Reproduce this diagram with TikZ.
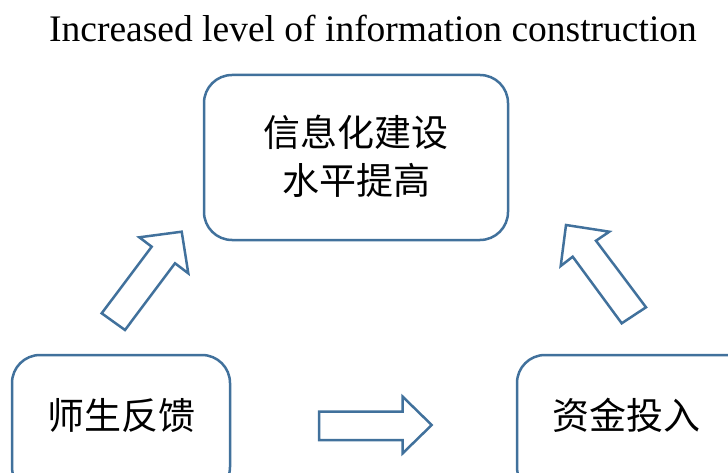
\documentclass[tikz,border=0pt]{standalone}
\usepackage{fontspec}
\setmainfont{Liberation Serif}
\newfontfamily\cjk{Noto Sans CJK SC}
\definecolor{frameblue}{RGB}{65,113,156}
\begin{document}
\begin{tikzpicture}[x=1pt,y=-1pt,
  box/.style={draw=frameblue, line width=2.5pt, rounded corners=28pt, fill=white, inner sep=0pt},
  cjktext/.style={font=\cjk\fontsize{37}{48}\selectfont, align=center, inner sep=0pt},
  blockarrow/.style={draw=frameblue, line width=2.5pt, line join=miter, fill=white}]
\useasboundingbox (0,0) rectangle (728,473);
\clip (0,0) rectangle (728,473);
% title
\node[anchor=base, font=\fontsize{37.5}{40}\selectfont, inner sep=0pt] (title) at (373,41.5) {Increased level of information construction};
% boxes
\node[box, minimum width=304pt, minimum height=165pt] (top) at (356,157.5) {};
\node[cjktext] (toptext) at (356,156) {信息化建设\\水平提高};
\node[box, minimum width=218pt, minimum height=140pt] (fb) at (121,425) {};
\node[cjktext] (fbtext) at (121,415) {师生反馈};
\node[box, minimum width=253pt, minimum height=140pt] (zj) at (643.5,425) {};
\node[cjktext] (zjtext) at (626,415) {资金投入};
% left block arrow
\draw[blockarrow] (101.7,313.3) -- (151.7,246.7) -- (139.3,237.3) -- (181.7,231.7)
  -- (188.3,273.3) -- (175,263.3) -- (125,330) -- cycle;
% right block arrow
\draw[blockarrow] (566,225) -- (609.3,231.7) -- (596,240.7) -- (646,307.3)
  -- (621.7,323.3) -- (572.7,256.7) -- (560.7,266) -- cycle;
% bottom block arrow
\draw[blockarrow] (319,411.7) -- (402.7,411.7) -- (402.7,396.7) -- (431.7,425)
  -- (402.7,453.3) -- (402.7,440) -- (319,440) -- cycle;
\end{tikzpicture}
\end{document}
